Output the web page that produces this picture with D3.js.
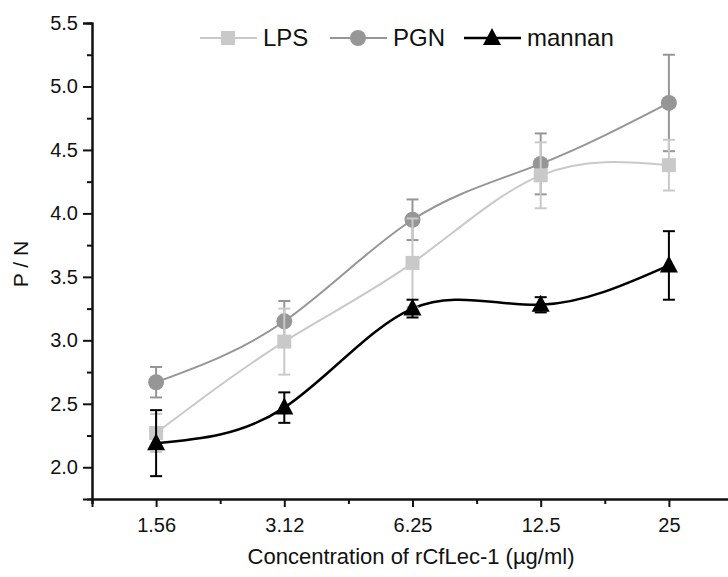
<!DOCTYPE html>
<html>
<head>
<meta charset="utf-8">
<script src="https://cdn.jsdelivr.net/npm/d3@7"></script>
<style>
  body { margin: 0; background: #fff; }
  text { font-family: "Liberation Sans", Arial, sans-serif; fill: #111; }
</style>
</head>
<body>
<svg id="chart" width="728" height="577"></svg>
<script>
// concentrations (log2 spaced, drawn by index)
const concentrations = ['1.56', '3.12', '6.25', '12.5', '25'];
const yTicks = [2.0, 2.5, 3.0, 3.5, 4.0, 4.5, 5.0, 5.5];

const lpsMean = [2.27, 2.99, 3.61, 4.30, 4.38];
const lpsErr  = [0.15, 0.26, 0.35, 0.26, 0.20];
const pgnMean = [2.67, 3.15, 3.95, 4.39, 4.87];
const pgnErr  = [0.12, 0.16, 0.16, 0.24, 0.38];
const mannanMean = [2.19, 2.47, 3.25, 3.28, 3.59];
const mannanErr  = [0.26, 0.12, 0.07, 0.06, 0.27];

const series = [
  { name: 'LPS', mean: lpsMean, err: lpsErr, color: '#c9c9c9', shape: 'square', width: 2 },
  { name: 'PGN', mean: pgnMean, err: pgnErr, color: '#969696', shape: 'circle', width: 2 },
  { name: 'mannan', mean: mannanMean, err: mannanErr, color: '#000000', shape: 'triangle', width: 2.5 }
];

const svg = d3.select('#chart');
const x = d3.scaleLinear().domain([-0.5, 4.5]).range([92, 733]);
const y = d3.scaleLinear().domain([1.75, 5.5]).range([499, 23]);

// axes
const xAxis = svg.append('g').attr('transform', 'translate(0,499)');
xAxis.call(d3.axisBottom(x).tickValues(d3.range(5)).tickFormat(i => concentrations[i]).tickSize(8).tickPadding(11));
xAxis.append('g').call(d3.axisBottom(x).tickValues(d3.range(-0.5, 4.6, 1)).tickFormat('').tickSize(5));

const yAxis = svg.append('g').attr('transform', 'translate(92,0)');
yAxis.call(d3.axisLeft(y).tickValues(yTicks).tickFormat(d3.format('.1f')).tickSize(9).tickPadding(5));
yAxis.append('g').call(d3.axisLeft(y).tickValues(d3.range(2.25, 5.5, 0.5)).tickFormat('').tickSize(5));

svg.selectAll('.domain').attr('stroke', '#111').attr('stroke-width', 2);
svg.selectAll('.tick line').attr('stroke-width', 2).attr('stroke', '#111');
svg.selectAll('.tick text').attr('font-size', 20).attr('fill', '#111');

// titles
svg.append('text').attr('x', 411).attr('y', 564).attr('text-anchor', 'middle')
  .attr('font-size', 22).text('Concentration of rCfLec-1 (µg/ml)');
svg.append('text').attr('transform', 'translate(28,264) rotate(-90)').attr('text-anchor', 'middle')
  .attr('font-size', 21).text('P / N');

const line = d3.line().x((d, i) => x(i)).y(d => y(d)).curve(d3.curveNatural);

function marker(g, shape, cx, cy, color) {
  if (shape === 'square') {
    g.append('rect').attr('x', cx - 7).attr('y', cy - 7).attr('width', 14).attr('height', 14).attr('fill', color);
  } else if (shape === 'circle') {
    g.append('circle').attr('cx', cx).attr('cy', cy).attr('r', 8).attr('fill', color);
  } else {
    g.append('path').attr('d', `M${cx},${cy - 10}L${cx + 9},${cy + 7}L${cx - 9},${cy + 7}Z`).attr('fill', color);
  }
}

// lines
series.forEach(s => {
  svg.append('path').datum(s.mean).attr('d', line)
    .attr('fill', 'none').attr('stroke', s.color).attr('stroke-width', s.width);
});

// error bars and markers
[series[1], series[0], series[2]].forEach(s => {
  const g = svg.append('g');
  s.mean.forEach((m, i) => {
    const cx = x(i), top = y(m + s.err[i]), bot = y(m - s.err[i]);
    g.append('line').attr('x1', cx).attr('x2', cx).attr('y1', top).attr('y2', bot)
      .attr('stroke', s.color).attr('stroke-width', 2);
    [top, bot].forEach(v => g.append('line').attr('x1', cx - 6).attr('x2', cx + 6).attr('y1', v).attr('y2', v)
      .attr('stroke', s.color).attr('stroke-width', 2));
  });
  s.mean.forEach((m, i) => marker(g, s.shape, x(i), y(m), s.color));
});

// legend
const legendX = [200, 330, 464];
series.forEach((s, k) => {
  const g = svg.append('g').attr('transform', `translate(${legendX[k]},38)`);
  g.append('line').attr('x1', 0).attr('x2', 57).attr('stroke', s.color).attr('stroke-width', s.width);
  marker(g, s.shape, 28, 0, s.color);
  g.append('text').attr('x', 63).attr('y', 8).attr('font-size', 24).text(s.name);
});
</script>
</body>
</html>
